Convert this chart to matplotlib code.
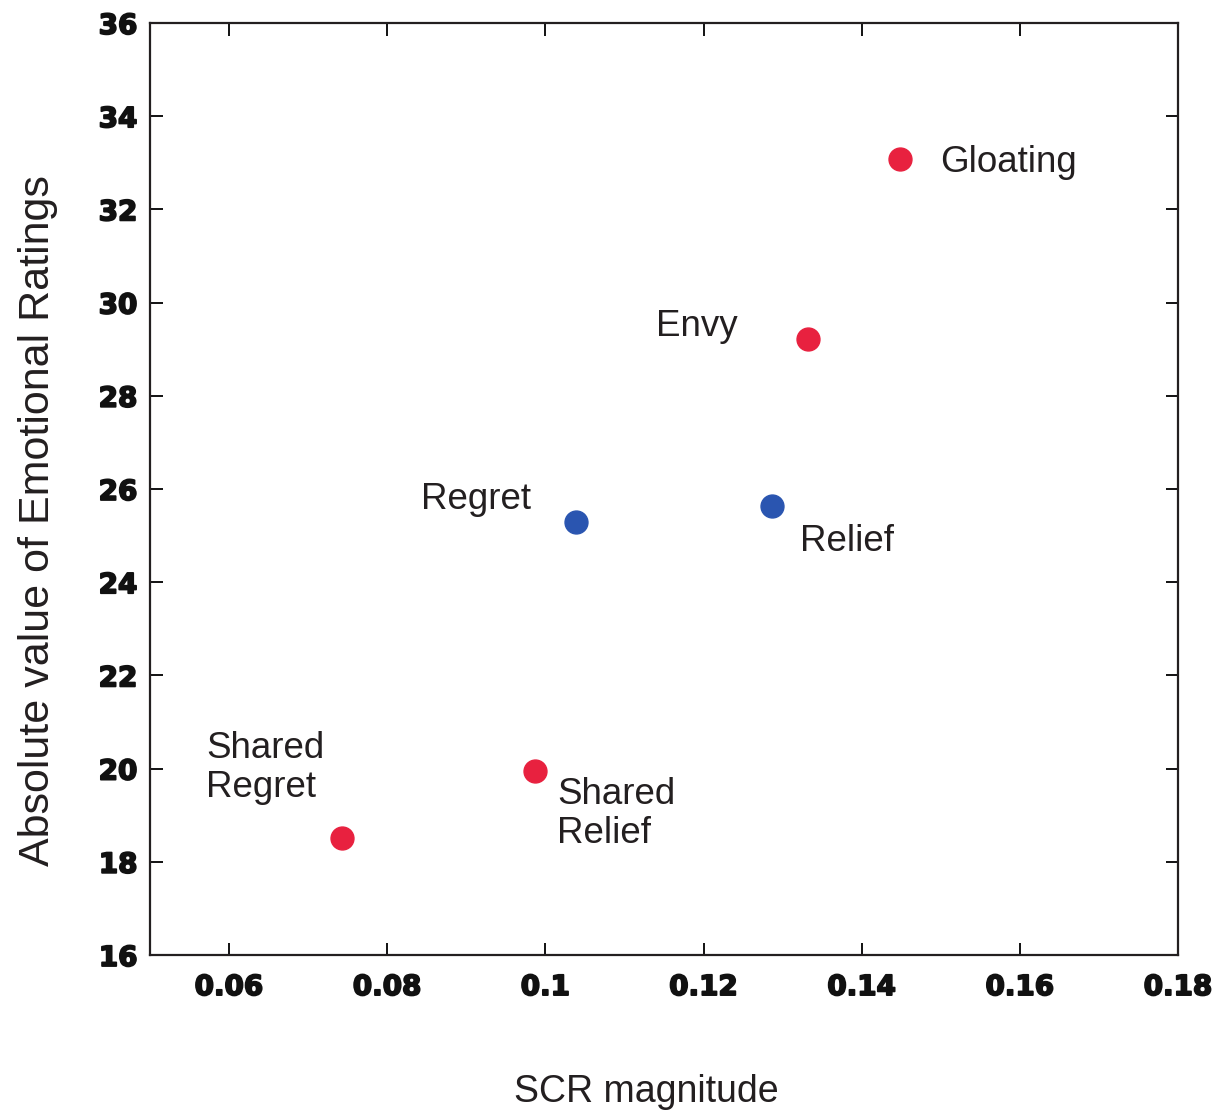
import matplotlib.pyplot as plt
import matplotlib.patheffects as pe

# SCR magnitude vs. absolute emotional rating per outcome condition
names = ["Gloating", "Envy", "Regret", "Relief", "Shared\nRelief", "Shared\nRegret"]
scr = [0.1448, 0.1332, 0.1039, 0.1286, 0.0987, 0.0743]
rating = [33.08, 29.22, 25.29, 25.64, 19.95, 18.51]
groups = ["social", "social", "private", "private", "social", "social"]

colors = {"social": "#e8213f", "private": "#2a55b0"}
# label offsets in pixels relative to each point, plus horizontal alignment
offsets = {
    "Gloating": (40, -3, "left"),
    "Envy": (-70, 12, "right"),
    "Regret": (-45, 23, "right"),
    "Relief": (28, -36, "left"),
    "Shared\nRelief": (22, -43, "left"),
    "Shared\nRegret": (-136, 70, "left"),
}

fig = plt.figure(figsize=(12.22, 11.2), dpi=100)
ax = fig.add_axes([0.1227, 0.1473, 0.8413, 0.8322])

for n, x, y, g in zip(names, scr, rating, groups):
    ax.plot(x, y, "o", ms=16.5, color=colors[g], mec=colors[g], mew=1)
    dx, dy, ha = offsets[n]
    ax.annotate(n, (x, y), xytext=(dx, dy), textcoords="offset pixels",
                ha=ha, va="center", fontsize=26.5, family="Liberation Sans",
                color="#231f20", linespacing=1.14)

ax.set_xlim(0.05, 0.18)
ax.set_ylim(16, 36)
ax.set_xticks([0.06, 0.08, 0.1, 0.12, 0.14, 0.16, 0.18])
ax.set_xticklabels(["0.06", "0.08", "0.1", "0.12", "0.14", "0.16", "0.18"])
ax.set_yticks(range(16, 37, 2))

for s in ax.spines.values():
    s.set_linewidth(1.6)
    s.set_color("#231f20")
ax.tick_params(direction="in", length=9, width=1.4, top=True, right=True,
               labelsize=20, colors="#111111")
ax.tick_params(axis="x", pad=13)
ax.tick_params(axis="y", pad=9)
heavy = [pe.withStroke(linewidth=1.3, foreground="#111111")]
for lab in ax.get_xticklabels() + ax.get_yticklabels():
    lab.set_fontweight("bold")
    lab.set_path_effects(heavy)

ax.set_xlabel("SCR magnitude", fontsize=27, family="Liberation Sans",
              color="#231f20")
ax.set_ylabel("Absolute value of Emotional Ratings", fontsize=31,
              family="Liberation Sans", color="#231f20")
ax.xaxis.set_label_coords(0.4825, -0.128)
ax.yaxis.set_label_coords(-0.089, 0.466)

fig.savefig("out.png", dpi=100)
